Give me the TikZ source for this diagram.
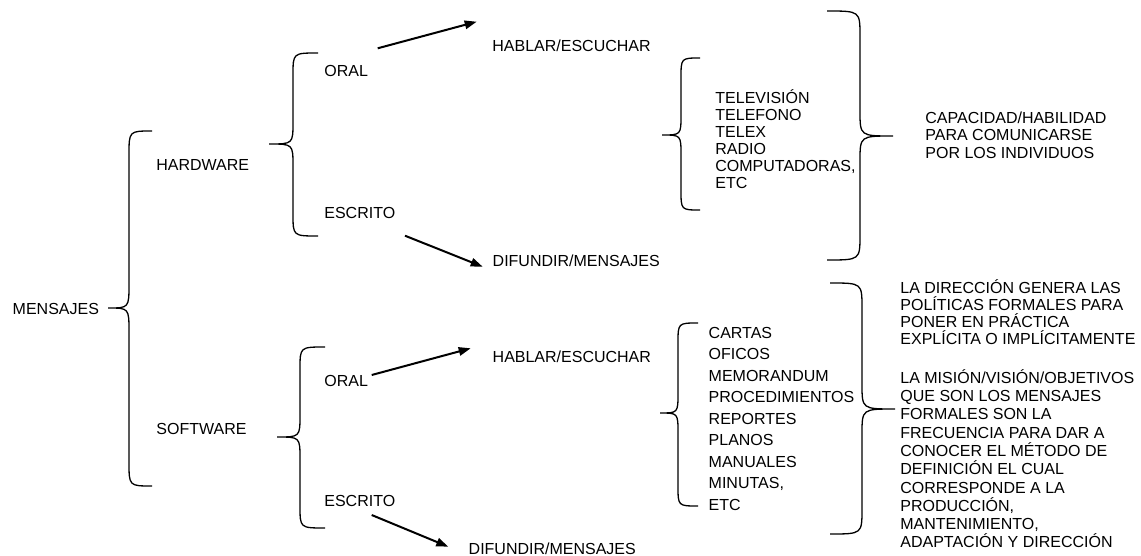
\documentclass[tikz,border=0pt]{standalone}
\usepackage{fontspec}
\setmainfont{Liberation Sans}
\usetikzlibrary{arrows.meta}

% curly brace: tip x, spine x, end x, top y, middle y, bottom y, corner radius
\newcommand\curlybrace[7]{%
  \draw[bracestyle] (#3,#4) .. controls (#2,#4) .. (#2,#4+#7)
    -- (#2,#5-#7) .. controls (#2,#5) .. (#1,#5)
    .. controls (#2,#5) .. (#2,#5+#7)
    -- (#2,#6-#7) .. controls (#2,#6) .. (#3,#6);}

\tikzset{
  bracestyle/.style={line width=0.65pt, black},
  label/.style={inner sep=0pt, anchor=base west, font=\fontsize{8pt}{8.8pt}\selectfont},
  % multi-line texts are placed by the baseline of their last line
  listtext/.style={label, align=left, font=\fontsize{8pt}{#1}\selectfont},
  arrowline/.style={line width=1pt, -{Triangle[length=6pt, width=4.2pt]}}
}

\begin{document}
\begin{tikzpicture}[x=0.5pt, y=-0.5pt]
  \useasboundingbox (0,0) rectangle (1141,556);

  % root and first level
  \node[label] (msg) at (12.3,314.8) {MENSAJES};
  \node[label] (hw)  at (156,170.8) {HARDWARE};
  \node[label] (sw)  at (156,434.2) {SOFTWARE};

  % hardware branch
  \node[label] (oralA) at (324,76.5)  {ORAL};
  \node[label] (escA)  at (324,218.8) {ESCRITO};
  \node[label] (habA)  at (492,51.5)  {HABLAR/ESCUCHAR};
  \node[label] (difA)  at (492.3,266.5) {DIFUNDIR/MENSAJES};
  \node[listtext=8.5pt] (media) at (715,188.2)
    {TELEVISIÓN\\TELEFONO\\TELEX\\RADIO\\COMPUTADORAS,\\ETC};
  \node[listtext=8.75pt] (cap) at (925,158.2)
    {CAPACIDAD/HABILIDAD\\PARA COMUNICARSE\\POR LOS INDIVIDUOS};

  % software branch
  \node[label] (oralB) at (324,386.5) {ORAL};
  \node[label] (escB)  at (324,506.5) {ESCRITO};
  \node[label] (habB)  at (492.3,362.2) {HABLAR/ESCUCHAR};
  \node[label] (difB)  at (468.3,554.8) {DIFUNDIR/MENSAJES};
  \node[listtext=10.75pt] (docs) at (708.3,510.2)
    {CARTAS\\OFICOS\\MEMORANDUM\\PROCEDIMIENTOS\\REPORTES\\PLANOS\\MANUALES\\MINUTAS,\\ETC};
  \node[listtext=8.6pt] (dir) at (900,344.8)
    {LA DIRECCIÓN GENERA LAS\\POLÍTICAS FORMALES PARA\\PONER EN PRÁCTICA\\EXPLÍCITA O IMPLÍCITAMENTE};
  \node[listtext=9.15pt] (mis) at (900,547.9)
    {LA MISIÓN/VISIÓN/OBJETIVOS\\QUE SON LOS MENSAJES\\FORMALES SON LA\\FRECUENCIA PARA DAR A\\CONOCER EL MÉTODO DE\\DEFINICIÓN EL CUAL\\CORRESPONDE A LA\\PRODUCCIÓN,\\MANTENIMIENTO,\\ADAPTACIÓN Y DIRECCIÓN};

  % braces
  \curlybrace{108}{129}{152}{131}{308}{486}{24}
  \curlybrace{269}{293}{318}{53}{144}{236}{22}
  \curlybrace{277}{300}{325}{347}{437}{528}{22}
  \curlybrace{662}{681}{700}{58}{135}{210}{20}
  \curlybrace{893}{860}{827}{11}{136}{260}{25}
  \curlybrace{660}{678}{698}{323}{413}{506}{20}
  \curlybrace{895}{862}{830}{283}{409}{534}{25}

  % arrow end points
  \coordinate (oralA-out) at (377.7,48.3);
  \coordinate (habA-in)   at (476.7,21.7);
  \coordinate (escA-out)  at (405,235.7);
  \coordinate (difA-in)   at (482.7,266.7);
  \coordinate (oralB-out) at (371.7,375);
  \coordinate (habB-in)   at (470.7,348.3);
  \coordinate (escB-out)  at (371.7,515);
  \coordinate (difB-in)   at (448.3,546.7);

  \draw[arrowline] (oralA-out) -- (habA-in);
  \draw[arrowline] (escA-out) -- (difA-in);
  \draw[arrowline] (oralB-out) -- (habB-in);
  \draw[arrowline] (escB-out) -- (difB-in);
\end{tikzpicture}
\end{document}
